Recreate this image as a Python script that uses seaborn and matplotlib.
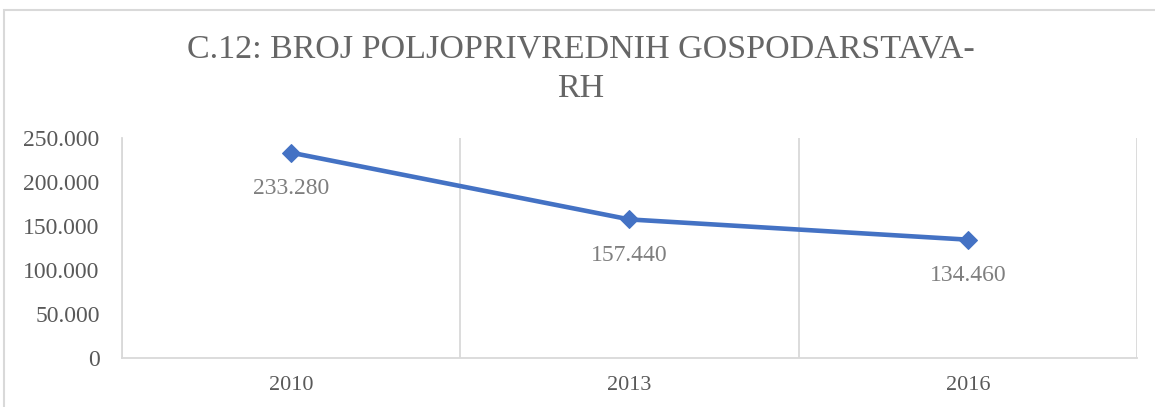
import matplotlib
matplotlib.use("Agg")
import matplotlib.pyplot as plt
import matplotlib.ticker as mticker
import pandas as pd
import seaborn as sns
from matplotlib.patches import Rectangle

years = ["2010", "2013", "2016"]
households = [233280, 157440, 134460]
title = "C.12: BROJ POLJOPRIVREDNIH GOSPODARSTAVA-\nRH"

sns.set_theme(style="white")
plt.rcParams["font.family"] = ["Liberation Serif", "DejaVu Serif"]

df = pd.DataFrame({"year": years, "households": households})


def dot_thousands(value, _pos=None):
    return f"{int(round(value)):,}".replace(",", ".")


fig = plt.figure(figsize=(11.55, 4.07), dpi=100)
ax = fig.add_axes([0.1056, 0.1204, 0.8788, 0.5406])

sns.lineplot(
    data=df, x="year", y="households", ax=ax,
    color="#4472C4", linewidth=3.3, marker="D", markersize=9,
    markeredgecolor="#4472C4",
)

for i, v in enumerate(households):
    ax.annotate(dot_thousands(v), (i, v), xytext=(0, -26), textcoords="offset points",
                ha="center", va="center", fontsize=17, color="#7f7f7f")

ax.set_xlim(-0.5, len(years) - 0.5)
ax.set_ylim(0, 250000)
ax.yaxis.set_major_locator(mticker.MultipleLocator(50000))
ax.yaxis.set_major_formatter(mticker.FuncFormatter(dot_thousands))
ax.set_xticks(range(len(years)))
ax.set_xticklabels(years)
ax.set_xticks([i + 0.5 for i in range(-1, len(years))], minor=True)
ax.grid(which="minor", axis="x", color="#d9d9d9", linewidth=1.3)
ax.grid(which="major", visible=False)
ax.tick_params(axis="both", which="both", length=0, colors="#595959")
ax.tick_params(axis="x", labelsize=16, pad=13)
ax.tick_params(axis="y", labelsize=17, pad=16)
ax.set_xlabel("")
ax.set_ylabel("")
for side in ["top", "right"]:
    ax.spines[side].set_visible(False)
for side in ["left", "bottom"]:
    ax.spines[side].set_color("#d9d9d9")
    ax.spines[side].set_linewidth(1.3)

fig.text(0.503, 0.83, title, ha="center", va="center", fontsize=24.5,
         color="#666666", linespacing=1.38)

fig.patches.append(Rectangle((4 / 1155, -0.05), 1.2, 1 - 10 / 407 + 0.05,
                             transform=fig.transFigure, fill=False,
                             edgecolor="#d9d9d9", linewidth=1.5))

fig.savefig("out.png", dpi=100, facecolor="white")
